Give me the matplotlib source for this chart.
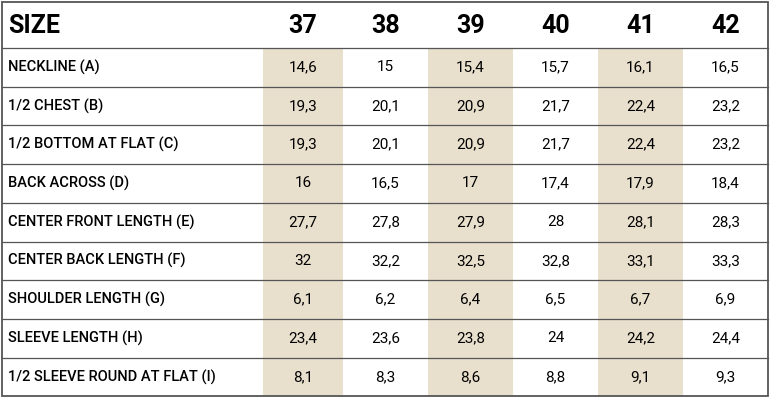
import matplotlib
matplotlib.use("Agg")
import matplotlib.pyplot as plt
from matplotlib.patches import Rectangle

sizes = ["37", "38", "39", "40", "41", "42"]
measures = ["NECKLINE (A)", "1/2 CHEST (B)", "1/2 BOTTOM AT FLAT (C)", "BACK ACROSS (D)",
            "CENTER FRONT LENGTH (E)", "CENTER BACK LENGTH (F)", "SHOULDER LENGTH (G)",
            "SLEEVE LENGTH (H)", "1/2 SLEEVE ROUND AT FLAT (I)"]
values = [
    ["14,6", "15", "15,4", "15,7", "16,1", "16,5"],
    ["19,3", "20,1", "20,9", "21,7", "22,4", "23,2"],
    ["19,3", "20,1", "20,9", "21,7", "22,4", "23,2"],
    ["16", "16,5", "17", "17,4", "17,9", "18,4"],
    ["27,7", "27,8", "27,9", "28", "28,1", "28,3"],
    ["32", "32,2", "32,5", "32,8", "33,1", "33,3"],
    ["6,1", "6,2", "6,4", "6,5", "6,7", "6,9"],
    ["23,4", "23,6", "23,8", "24", "24,2", "24,4"],
    ["8,1", "8,3", "8,6", "8,8", "9,1", "9,3"],
]

fig = plt.figure(figsize=(7.7, 4.0), dpi=100)
ax = fig.add_axes([0, 0, 1, 1])
ax.set_xlim(0, 770); ax.set_ylim(400, 0); ax.axis("off")

col_edges = [2, 263, 343, 428, 513, 598, 683, 768]
row_edges = [2, 48] + [48 + 38.7 * (i + 1) for i in range(9)]
shade = "#e8dfcc"
font = "Roboto"

for j in range(len(sizes)):
    if j % 2 == 0:
        ax.add_patch(Rectangle((col_edges[j + 1], row_edges[1]), col_edges[j + 2] - col_edges[j + 1],
                               row_edges[-1] - row_edges[1], color=shade, lw=0))

for y in row_edges[1:-1]:
    ax.plot([col_edges[0], col_edges[-1]], [y, y], color="#555555", lw=0.9)
ax.add_patch(Rectangle((col_edges[0], row_edges[0]), col_edges[-1] - col_edges[0],
                       row_edges[-1] - row_edges[0], fill=False, ec="#555555", lw=1.3))

hy = (row_edges[0] + row_edges[1]) / 2 + 1
ax.text(8, hy, "SIZE", fontsize=18, fontweight="bold", family=font, va="center", ha="left")
for j, s in enumerate(sizes):
    cx = (col_edges[j + 1] + col_edges[j + 2]) / 2
    ax.text(cx, hy, s, fontsize=18, fontweight="bold", family=font, va="center", ha="center")

for i, m in enumerate(measures):
    cy = (row_edges[i + 1] + row_edges[i + 2]) / 2
    ax.text(8, cy, m, fontsize=10.5, fontweight="medium", family=font, va="center", ha="left")
    for j, v in enumerate(values[i]):
        cx = (col_edges[j + 1] + col_edges[j + 2]) / 2
        ax.text(cx, cy, v, fontsize=11, family=font, va="center", ha="center")

fig.savefig("out.png", dpi=100, facecolor="white")
